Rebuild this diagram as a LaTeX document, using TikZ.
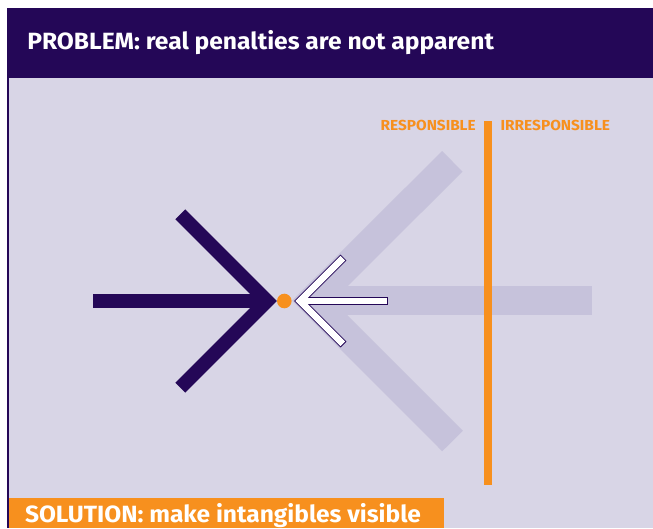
\documentclass[tikz,border=0pt]{standalone}
\usepackage{fontspec}
\setmainfont{Fira Sans}
\usepackage{graphicx}
\definecolor{darkpurple}{HTML}{240757}
\definecolor{panel}{HTML}{D8D5E6}
\definecolor{ghost}{HTML}{C6C2DB}
\definecolor{orangec}{HTML}{F7901E}
\newcommand{\fitto}[2]{\resizebox{#1}{\height}{#2}}
\tikzset{
  lbl/.style={inner sep=0pt, outer sep=0pt},
  title/.style={lbl, text=white, font=\fontsize{23.5}{24}\selectfont\bfseries},
  side/.style={lbl, text=orangec, font=\fontsize{14.5}{15}\selectfont\bfseries},
  ghostarrow/.style={ghost, line width=29pt, line join=miter},
  darkarrow/.style={darkpurple, line width=14pt, line join=miter},
  outlinearrow/.style={darkpurple, line width=8.4pt, line join=miter},
  innerarrow/.style={white, line width=6.4pt, line join=miter},
}
\begin{document}
\begin{tikzpicture}[x=1pt,y=-1pt]
\useasboundingbox (0,0) rectangle (653,528);
\fill[white] (0,0) rectangle (653,528);
\fill[panel] (8,78) rectangle (653,528);
\fill[darkpurple] (7,8) rectangle (653,78);
\fill[darkpurple] (7,8) rectangle (9,528);
\fill[orangec] (8.5,498) rectangle (444,528);

% ghost arrow
\coordinate (gtip) at (312.5,300.7);
\coordinate (gup) at (452.3,161.3);
\coordinate (gdn) at (452.5,441);
\coordinate (gend) at (591.7,300.7);
\draw[ghostarrow] (gup) -- (gtip) -- (gdn);
\draw[ghostarrow] (gtip) -- (gend);

% orange divider
\fill[orangec] (484,120.5) rectangle (492,484.5);

% dark arrow
\coordinate (dtip) at (267,301);
\coordinate (dup) at (180.3,214.2);
\coordinate (ddn) at (180.3,387.6);
\coordinate (dstart) at (93.3,301);
\draw[darkarrow] (dup) -- (dtip) -- (ddn);
\draw[darkarrow] (dstart) -- (dtip);

% orange dot
\fill[orangec] (284.3,301) circle[radius=7.3pt];

% white outlined arrow
\coordinate (wtip) at (300,301);
\coordinate (wup) at (343.5,257.5);
\coordinate (wdn) at (343.5,344.5);
\coordinate (wend) at (387.7,301);
\draw[outlinearrow] (wup) -- (wtip) -- (wdn);
\draw[outlinearrow] (wtip) -- (wend);
\draw[innerarrow, shorten <=1pt, shorten >=1pt] (wup) -- (wtip) -- (wdn);
\draw[innerarrow, shorten >=1pt] (wtip) -- (wend);

% texts
\node[title, anchor=base west] (prob) at (27.3,49) {\fitto{466.7pt}{PROBLEM: real penalties are not apparent}};
\node[title, anchor=base west] (sol) at (25,522.7) {\fitto{396pt}{SOLUTION: make intangibles visible}};
\node[side, anchor=base east] (resp) at (475.7,130.7) {\fitto{95pt}{RESPONSIBLE}};
\node[side, anchor=base west] (irr) at (500.7,130.7) {\fitto{109.3pt}{IRRESPONSIBLE}};
\end{tikzpicture}
\end{document}
